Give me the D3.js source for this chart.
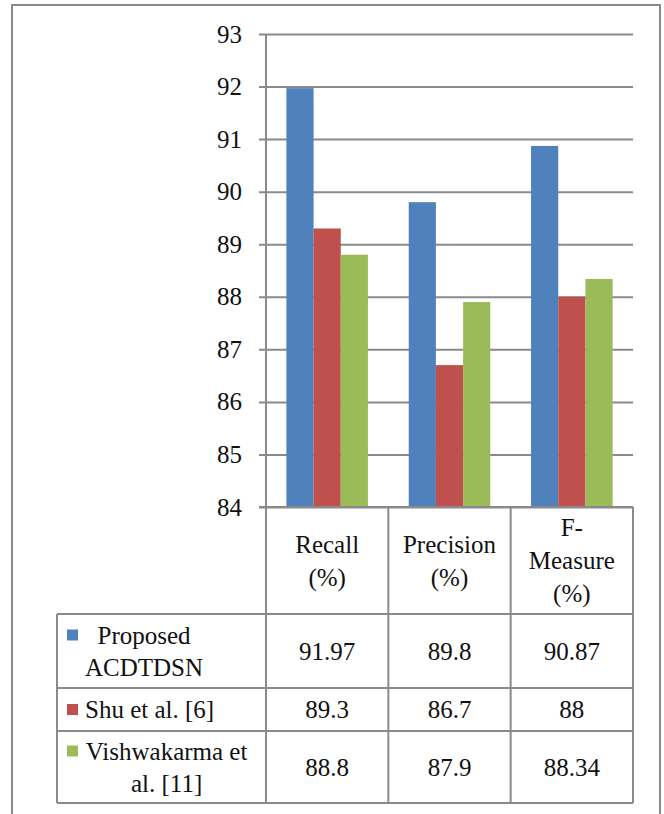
<html><head><meta charset="utf-8"><script src="https://cdn.jsdelivr.net/npm/d3@7"></script></head>
<body style="margin:0">
<svg id="fig" width="664" height="814"></svg>
<script>
// Metrics (columns of the data table / bar groups)
const categories = ["Recall", "Precision", "F-Measure"];
const categoryLines = [["Recall", "(%)"], ["Precision", "(%)"], ["F-", "Measure", "(%)"]];

// Methods compared (rows of the data table / bar colours)
const series = ["Proposed ACDTDSN", "Shu et al. [6]", "Vishwakarma et al. [11]"];
const seriesLines = [["Proposed", "ACDTDSN"], ["Shu et al. [6]"], ["Vishwakarma et", "al. [11]"]];
const seriesColors = ["#4F81BD", "#C0504D", "#9BBB59"];

// Scores per method, in category order
const proposedValues = [91.97, 89.8, 90.87];
const shuValues = [89.3, 86.7, 88];
const vishwakarmaValues = [88.8, 87.9, 88.34];
const seriesValues = [proposedValues, shuValues, vishwakarmaValues];

// Value axis
const yDomain = [84, 93];
const yTicks = [84, 85, 86, 87, 88, 89, 90, 91, 92, 93];

const svg = d3.select("#fig");
const gridColor = "#8a8a8a";
const fontSize = 25;
const styleText = sel => sel
  .attr("font-size", fontSize)
  .attr("fill", "#111")
  .style("font-family", `"Liberation Serif"`);

// approximate serif advance widths (per 1000 em) for wrapping legend names
const advance = {" ": 250, "A": 722, "C": 667, "D": 722, "N": 722, "P": 556, "S": 556, "T": 611, "V": 722,
  "a": 444, "d": 500, "e": 444, "h": 500, "i": 278, "k": 500, "l": 278, "m": 778, "o": 500, "p": 500,
  "r": 333, "s": 389, "t": 278, "u": 500, "w": 722, ".": 250, "[": 333, "]": 333};
const textWidth = s => Array.from(s).reduce((w, ch) => w + (advance[ch] || 500), 0) * fontSize / 1000;

// Plot area
const plotLeft = 266, plotRight = 633, plotTop = 34, plotBottom = 507;
const tickLen = 7;

const y = d3.scaleLinear().domain(yDomain).range([plotBottom, plotTop]);
const x = d3.scaleBand().domain(categories).range([plotLeft, plotRight]).padding(0);
const xInner = d3.scaleBand().domain(series).range([0, x.bandwidth()])
  .paddingInner(0).paddingOuter(0.75);

// Outer frame
svg.append("rect")
  .attr("x", 12).attr("y", 5)
  .attr("width", 648).attr("height", 840)
  .attr("fill", "none").attr("stroke", gridColor).attr("stroke-width", 2);

// Gridlines + tick labels
const yAxis = d3.axisLeft(y)
  .tickValues(yTicks)
  .tickSize(-(plotRight - plotLeft + tickLen))
  .tickPadding(17)
  .tickFormat(d3.format("d"));

const yg = svg.append("g")
  .attr("transform", `translate(${plotLeft - tickLen},0)`)
  .call(yAxis);
yg.attr("font-family", null);
yg.select(".domain").remove();
yg.selectAll(".tick line").attr("stroke", gridColor).attr("stroke-width", 2);
yg.selectAll(".tick text").call(styleText);

// Bars
const barData = [];
series.forEach((s, si) => {
  categories.forEach((c, ci) => {
    barData.push({ s, c, v: seriesValues[si][ci], color: seriesColors[si] });
  });
});
svg.append("g").selectAll("rect")
  .data(barData)
  .join("rect")
  .attr("x", d => x(d.c) + xInner(d.s))
  .attr("width", xInner.bandwidth())
  .attr("y", d => y(d.v))
  .attr("height", d => y(yDomain[0]) - y(d.v))
  .attr("fill", d => d.color);

// Data table beneath the plot
const tableLeft = 57;
const headerTop = plotBottom, headerBottom = 614;
const rowEdges = [614, 688, 731, 803];
const colEdges = categories.map(c => x(c)).concat([plotRight]);
const lineH = 33;

const tg = svg.append("g").attr("stroke", gridColor).attr("stroke-width", 2);
// value axis line continuing down as the first column divider
tg.append("line").attr("x1", plotLeft).attr("x2", plotLeft)
  .attr("y1", plotTop).attr("y2", rowEdges[rowEdges.length - 1]);
// bottom axis line / top of the header row
tg.append("line").attr("x1", plotLeft - tickLen).attr("x2", plotRight)
  .attr("y1", plotBottom).attr("y2", plotBottom);
colEdges.slice(1).forEach(cx => {
  tg.append("line").attr("x1", cx).attr("x2", cx)
    .attr("y1", headerTop).attr("y2", rowEdges[rowEdges.length - 1]);
});
tg.append("line").attr("x1", tableLeft).attr("x2", tableLeft)
  .attr("y1", rowEdges[0]).attr("y2", rowEdges[rowEdges.length - 1]);
rowEdges.forEach(ry => {
  tg.append("line").attr("x1", tableLeft).attr("x2", plotRight)
    .attr("y1", ry).attr("y2", ry);
});

// Header labels
categories.forEach((c, ci) => {
  const lines = categoryLines[ci];
  const cx = x(c) + x.bandwidth() / 2;
  const cy = (headerTop + headerBottom) / 2 + 8.5;
  lines.forEach((ln, li) => {
    svg.append("text")
      .attr("x", cx)
      .attr("y", cy + (li - (lines.length - 1) / 2) * lineH)
      .attr("text-anchor", "middle")
      .call(styleText)
      .text(ln);
  });
});

// Rows: legend key + method name (lines centred in a shrink-wrapped block), then values
const keySize = 11;
series.forEach((s, si) => {
  const top = rowEdges[si], bottom = rowEdges[si + 1];
  const cy = (top + bottom) / 2 + 8.5;
  const lines = seriesLines[si];
  const rowLineH = 32;
  const firstBase = cy - (lines.length - 1) / 2 * rowLineH;

  svg.append("rect")
    .attr("x", tableLeft + 10)
    .attr("y", firstBase - 14)
    .attr("width", keySize).attr("height", keySize)
    .attr("fill", seriesColors[si]);

  const startX = tableLeft + 10 + keySize + 7;
  const blockW = d3.max(lines, textWidth);
  const centerX = startX + blockW / 2;
  lines.forEach((ln, li) => {
    svg.append("text")
      .attr("x", centerX)
      .attr("y", firstBase + li * rowLineH)
      .attr("text-anchor", "middle")
      .call(styleText)
      .text(ln);
  });

  categories.forEach((c, ci) => {
    svg.append("text")
      .attr("x", x(c) + x.bandwidth() / 2)
      .attr("y", cy)
      .attr("text-anchor", "middle")
      .call(styleText)
      .text(String(seriesValues[si][ci]));
  });
});
</script></body></html>
